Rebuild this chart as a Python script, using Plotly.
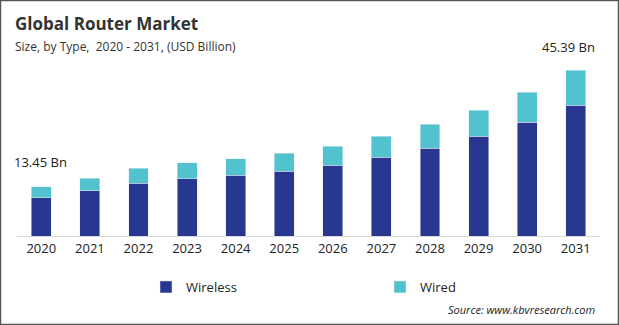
import plotly.graph_objects as go

years = ["2020", "2021", "2022", "2023", "2024", "2025", "2026", "2027", "2028", "2029", "2030", "2031"]
wireless = [10.40, 12.31, 14.49, 15.59, 16.68, 17.77, 19.41, 21.60, 24.06, 27.34, 31.17, 35.80]
wired = [3.05, 3.55, 4.10, 4.38, 4.38, 4.92, 5.20, 5.74, 6.56, 7.11, 8.20, 9.59]
first_label = "13.45 Bn"
last_label = "45.39 Bn"

W, H = 619, 325
L, R, T, B = 17, 19, 50, 89
pw, ph = W - L - R, H - T - B
ymax = 50.86

fig = go.Figure()
fig.add_trace(go.Bar(x=years, y=wireless, name="Wireless", marker_color="#283891", legend="legend"))
fig.add_trace(go.Bar(x=years, y=wired, name="Wired", marker_color="#52c2ce", legend="legend2"))

font = "Open Sans, Noto Sans, sans-serif"
leg_common = dict(orientation="h", xanchor="left", yanchor="middle", y=(236 - 287) / ph,
                  font=dict(size=13, color="#222"), itemclick=False, bgcolor="rgba(0,0,0,0)")
fig.update_layout(
    width=W, height=H,
    margin=dict(l=L, r=R, t=T, b=B),
    barmode="stack", bargap=0.59,
    paper_bgcolor="white", plot_bgcolor="white",
    font=dict(family=font, color="#222", size=13),
    showlegend=True,
    legend=dict(x=(146 - L) / pw, **leg_common),
    legend2=dict(x=(380 - L) / pw, **leg_common),
    xaxis=dict(type="category", showline=True, linecolor="#d9d9d9", linewidth=1, ticks="",
               tickfont=dict(size=13, color="#222"), showgrid=False, fixedrange=True),
    yaxis=dict(range=[0, ymax], visible=False, showgrid=False, fixedrange=True),
)

fig.add_annotation(xref="paper", yref="paper", x=(13 - L) / pw, y=(236 - 24) / ph, xanchor="left", yanchor="middle",
                   text="<b>Global Router Market</b>", showarrow=False, font=dict(size=17, color="#333", family=font))
fig.add_annotation(xref="paper", yref="paper", x=(13 - L) / pw, y=(236 - 46) / ph, xanchor="left", yanchor="middle",
                   text="Size, by Type,  2020 - 2031, (USD Billion)", showarrow=False, font=dict(size=12, color="#333", family=font))
fig.add_annotation(xref="paper", yref="y", x=(12 - L) / pw, y=wireless[0] + wired[0], xanchor="left", yanchor="bottom",
                   yshift=14, text=first_label, showarrow=False, font=dict(size=13, color="#222", family=font))
fig.add_annotation(xref="paper", yref="y", x=(597 - L) / pw, y=wireless[-1] + wired[-1], xanchor="right", yanchor="bottom",
                   yshift=12, text=last_label, showarrow=False, font=dict(size=13, color="#222", family=font))
fig.add_annotation(xref="paper", yref="paper", x=(597 - L) / pw, y=(236 - 309) / ph, xanchor="right", yanchor="middle",
                   text="<i>Source: www.kbvresearch.com</i>", showarrow=False, font=dict(size=11, color="#222", family=font))

fig.add_shape(type="rect", xref="paper", yref="paper",
              x0=(0.5 - L) / pw, x1=(W - 0.5 - L) / pw, y0=(236 - (H - 0.5)) / ph, y1=(236 - 0.5) / ph,
              line=dict(color="#555", width=1.5), fillcolor="rgba(0,0,0,0)", layer="above")

fig.write_html("out.html")
